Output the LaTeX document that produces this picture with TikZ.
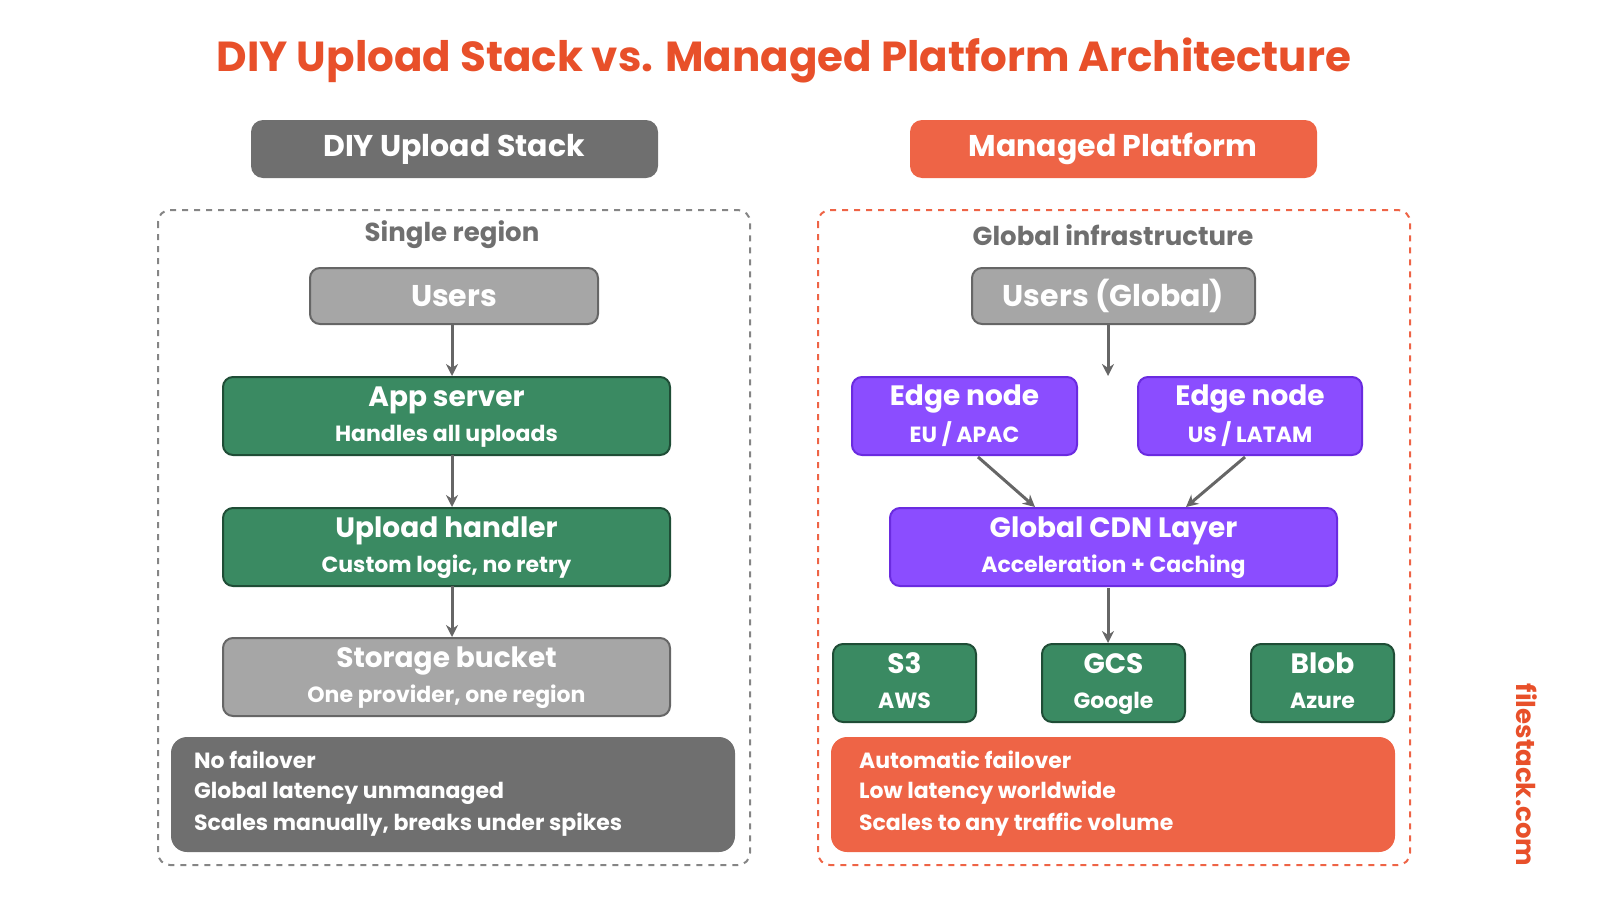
\documentclass[tikz,border=0pt]{standalone}
\usepackage{fontspec}
\setmainfont{Poppins}
\usetikzlibrary{arrows.meta}
\definecolor{ttl}{HTML}{E8502A}
\definecolor{dg}{HTML}{6F6F6F}
\definecolor{org}{HTML}{EE6446}
\definecolor{lg}{HTML}{A6A6A6}
\definecolor{gr}{HTML}{3A8A62}
\definecolor{grb}{HTML}{1F4D36}
\definecolor{pu}{HTML}{8B4DFF}
\definecolor{pub}{HTML}{6A2BE0}
\definecolor{ar}{HTML}{666666}
\newcommand{\twol}[2]{\textbf{\fontsize{14}{17}\selectfont\strut #1}\\[2pt]\textbf{\fontsize{11}{13}\selectfont\strut #2}}
\begin{document}
\begin{tikzpicture}[x=0.5pt,y=-0.5pt,
 box/.style={rounded corners=5pt,line width=1pt,text=white,align=center,inner sep=0pt},
 hdr/.style={box,draw=none,font=\bfseries\fontsize{15}{18}\selectfont},
 g/.style={box,fill=gr,draw=grb},
 p/.style={box,fill=pu,draw=pub},
 l/.style={box,fill=lg,draw=ar},
 note/.style={text=white,anchor=west,font=\bfseries\fontsize{11}{13}\selectfont},
 arr/.style={draw=ar,line width=1.5pt,-{Stealth[length=6pt,width=6pt]}}]
\useasboundingbox (0,0) rectangle (1600,900);
\node[text=ttl,font=\bfseries\fontsize{21}{25}\selectfont] (title) at (784,60) {DIY Upload Stack vs. Managed Platform Architecture};
\fill[dg,rounded corners=6pt] (251,120) rectangle (658,178);
\node[hdr] (h1) at (454,149) {DIY Upload Stack};
\fill[org,rounded corners=6pt] (910,120) rectangle (1317,178);
\node[hdr] (h2) at (1113,149) {Managed Platform};
\draw[ar!80,dashed,line width=1pt,rounded corners=6pt] (158,210) rectangle (750,865);
\draw[org,dashed,line width=1pt,rounded corners=6pt] (818,210) rectangle (1410,865);
\node[text=dg,font=\bfseries\fontsize{13}{15}\selectfont] (sr) at (452,235) {Single region};
\node[text=dg,font=\bfseries\fontsize{13}{15}\selectfont] (gi) at (1113,235) {Global infrastructure};
% left
\node[l,minimum width=144pt,minimum height=28pt,font=\bfseries\fontsize{15}{18}\selectfont] (u) at (454,296) {Users};
\node[g,minimum width=223.5pt,minimum height=39pt] (app) at (446.5,416) {\twol{App server}{Handles all uploads}};
\node[g,minimum width=223.5pt,minimum height=39pt] (up) at (446.5,547) {\twol{Upload handler}{Custom logic, no retry}};
\node[l,minimum width=223.5pt,minimum height=39pt] (st) at (446.5,677) {\twol{Storage bucket}{One provider, one region}};
\draw[arr] (452,324) -- (app.north -| 452,0);
\draw[arr] (452,455) -- (up.north -| 452,0);
\draw[arr] (452,586) -- (st.north -| 452,0);
\fill[dg,rounded corners=8pt] (171,737) rectangle (735,852);
\node[note] (n1) at (187,760) {No failover};
\node[note] (n2) at (187,793) {Global latency unmanaged};
\node[note] (n3) at (187,825) {Scales manually, breaks under spikes};
% right
\node[l,minimum width=141.5pt,minimum height=28pt,font=\bfseries\fontsize{15}{18}\selectfont] (ug) at (1113.5,296) {Users (Global)};
\coordinate (ue) at (1108,376);
\draw[arr] (1108,324) -- (ue);
\node[p,minimum width=112.5pt,minimum height=39pt] (e1) at (964.5,416) {\twol{Edge node}{EU / APAC}};
\node[p,minimum width=112pt,minimum height=39pt] (e2) at (1250,416) {\twol{Edge node}{US / LATAM}};
\node[p,minimum width=223.5pt,minimum height=39pt] (cdn) at (1113.5,547) {\twol{Global CDN Layer}{Acceleration + Caching}};
\coordinate (c1) at (1035,507);
\coordinate (c2) at (1186,507);
\draw[arr] (978,457) -- (c1);
\draw[arr] (1245,457) -- (c2);
\node[g,minimum width=71.5pt,minimum height=39pt] (s3) at (904.5,683) {\twol{S3}{AWS}};
\node[g,minimum width=71.5pt,minimum height=39pt] (gcs) at (1113.5,683) {\twol{GCS}{Google}};
\node[g,minimum width=71.5pt,minimum height=39pt] (blob) at (1322.5,683) {\twol{Blob}{Azure}};
\draw[arr] (1108,588) -- (1108,643);
\fill[org,rounded corners=8pt] (831,737) rectangle (1395,852);
\node[note] (m1) at (852,760) {Automatic failover};
\node[note] (m2) at (852,793) {Low latency worldwide};
\node[note] (m3) at (852,825) {Scales to any traffic volume};
\node[text=ttl,rotate=-90,font=\bfseries\fontsize{13}{15}\selectfont] (fs) at (1527,775) {filestack.com};
\end{tikzpicture}
\end{document}
